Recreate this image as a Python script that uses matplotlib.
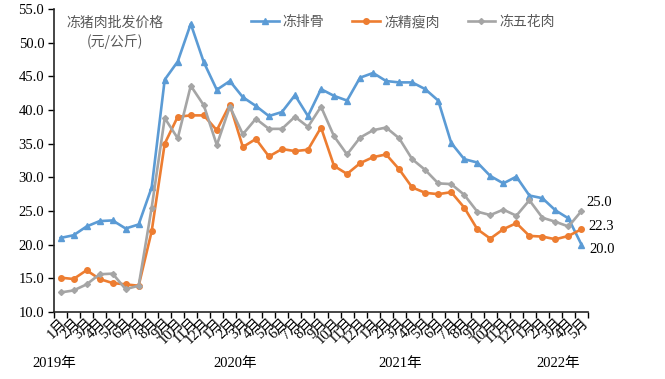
import matplotlib.pyplot as plt
from matplotlib import transforms

# monthly wholesale prices, 2019-01 .. 2022-05
months = ["1月", "2月", "3月", "4月", "5月", "6月", "7月", "8月", "9月", "10月", "11月", "12月"]
month_labels = months * 3 + months[:5]

ribs = [21.0, 21.4, 22.7, 23.5, 23.6, 22.4, 23.0, 28.5, 44.5, 47.2, 52.8, 47.1,
        43.0, 44.3, 41.9, 40.6, 39.1, 39.7, 42.2, 39.1, 43.1, 42.1, 41.4, 44.8,
        45.5, 44.3, 44.1, 44.1, 43.1, 41.4, 35.1, 32.7, 32.2, 30.2, 29.1, 30.1,
        27.3, 26.9, 25.1, 23.9, 20.0]
lean = [15.1, 14.9, 16.2, 14.9, 14.3, 14.1, 13.9, 22.0, 35.0, 39.0, 39.2, 39.2,
        37.0, 40.8, 34.5, 35.7, 33.1, 34.2, 33.9, 34.1, 37.4, 31.7, 30.5, 32.1,
        33.0, 33.4, 31.2, 28.5, 27.7, 27.5, 27.8, 25.5, 22.3, 20.9, 22.3, 23.2,
        21.3, 21.2, 20.8, 21.3, 22.3]
belly = [12.9, 13.2, 14.1, 15.6, 15.7, 13.4, 13.9, 25.5, 38.8, 35.8, 43.6, 40.7,
         34.8, 40.5, 36.4, 38.7, 37.2, 37.2, 39.0, 37.5, 40.5, 36.1, 33.4, 35.9,
         37.0, 37.4, 35.8, 32.7, 31.1, 29.1, 29.0, 27.4, 24.9, 24.4, 25.2, 24.3,
         26.6, 24.0, 23.4, 22.7, 25.0]

years = ["2019年", "2020年", "2021年", "2022年"]

serif = ["Liberation Serif", "Noto Sans CJK SC"]
cjk = ["Noto Sans CJK SC", "DejaVu Sans"]

fig = plt.figure(figsize=(6.65, 3.79), dpi=100)
ax = fig.add_axes([54 / 665, 1 - 312 / 379, 534 / 665, 303 / 379])

x = list(range(len(ribs)))
ax.plot(x, ribs, color="#5B9BD5", lw=1.9, marker="^", ms=4, label="冻排骨")
ax.plot(x, lean, color="#ED7D31", lw=1.9, marker="o", ms=4, label="冻精瘦肉")
ax.plot(x, belly, color="#A5A5A5", lw=1.9, marker="D", ms=3, label="冻五花肉")

ax.set_ylim(10, 55)
ax.set_yticks(range(10, 56, 5))
ax.set_yticklabels([f"{v:.1f}" for v in range(10, 56, 5)], fontfamily=serif, fontsize=10.5)
ax.set_xlim(-0.5, len(x) - 0.5)

# ticks between categories, labels at category centres
ax.set_xticks([i - 0.5 for i in range(len(x) + 1)])
ax.set_xticklabels([])
ax.set_xticks(x, minor=True)
ax.set_xticklabels(month_labels, minor=True, rotation=45, ha="right",
                   rotation_mode="anchor", fontfamily=serif, fontsize=10.5)
ax.tick_params(axis="x", which="minor", length=0, pad=3)
ax.tick_params(axis="x", which="major", length=4, width=1, color="#000000")
ax.tick_params(axis="y", length=4, width=1, pad=3)

for s in ["top", "right"]:
    ax.spines[s].set_visible(False)
for s in ["left", "bottom"]:
    ax.spines[s].set_linewidth(1.2)
    ax.spines[s].set_color("#262626")

# year labels under the axis
trans = transforms.blended_transform_factory(ax.transData, fig.transFigure)
year_x = [-0.45, 13.4, 26.05, 38.2]
for yx, yl in zip(year_x, years):
    ax.text(yx, 1 - 364 / 379, yl, transform=trans, ha="center", va="center",
            fontfamily=serif, fontsize=10.5)

# end values
ax.text(40.4, 25.0 + 1.2, f"{belly[-1]:.1f}", fontfamily=serif, fontsize=10.5, va="center")
ax.text(40.55, lean[-1] + 0.4, f"{lean[-1]:.1f}", fontfamily=serif, fontsize=10.5, va="center")
ax.text(40.6, ribs[-1] - 0.7, f"{ribs[-1]:.1f}", fontfamily=serif, fontsize=10.5, va="center")

ax.text(4.2, 51.5, "冻猪肉批发价格\n(元/公斤)", ha="center", va="center",
        fontfamily=cjk, fontsize=10, color="#595959", linespacing=1.4)

leg = fig.legend(loc="center", bbox_to_anchor=(403 / 665, 1 - 22 / 379), ncol=3,
                 frameon=False, handlelength=2.0, handletextpad=0.3, columnspacing=2.0,
                 prop={"family": cjk, "size": 10})
for t in leg.get_texts():
    t.set_color("#595959")

fig.savefig("out.png", dpi=100)
